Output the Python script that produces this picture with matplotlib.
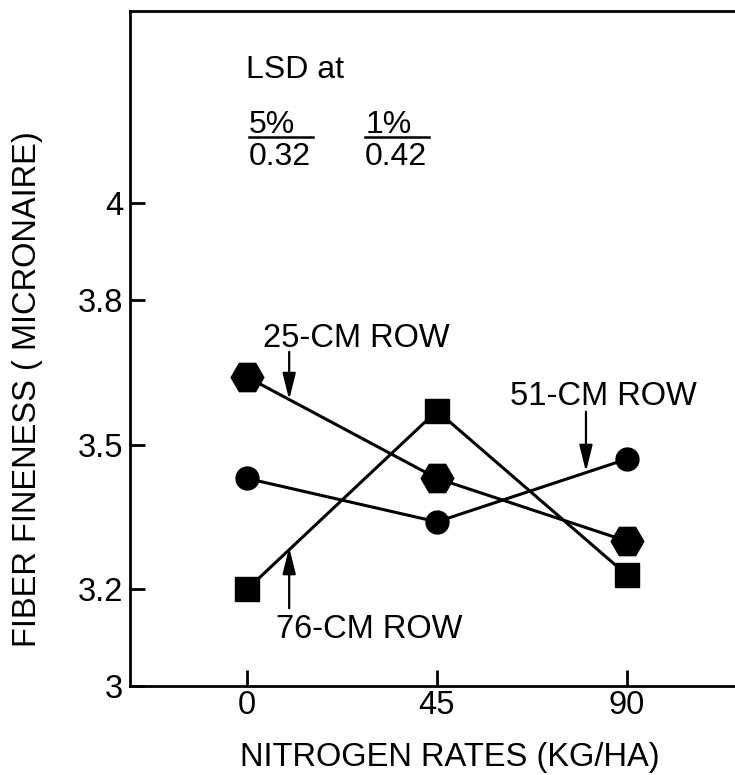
import matplotlib
matplotlib.use('Agg')
import matplotlib.pyplot as plt

# Dados
nitrogen = [0, 45, 90]
row_25cm = [3.64, 3.43, 3.30]   # hexágonos
row_51cm = [3.43, 3.34, 3.47]   # círculos
row_76cm = [3.20, 3.57, 3.23]   # quadrados
yticks = [3, 3.2, 3.5, 3.8, 4]
ytick_labels = ['3', '3.2', '3.5', '3.8', '4']
lsd_levels = ['5%', '1%']
lsd_values = ['0.32', '0.42']

plt.rcParams['font.family'] = ['Liberation Sans', 'DejaVu Sans']

fig = plt.figure(figsize=(7.35, 7.75), dpi=100)
ax = fig.add_axes([130/735, 89/775, 605/735, 675/775])

ax.plot(nitrogen, row_25cm, color='black', lw=2.2, marker='H', ms=23.5)
ax.plot(nitrogen, row_51cm, color='black', lw=2.2, marker='o', ms=16.5)
ax.plot(nitrogen, row_76cm, color='black', lw=2.2, marker='s', ms=17)

ax.set_xlim(-27.7, 115.6)
ax.set_ylim(3.0, 4.398)
ax.set_xticks(nitrogen)
ax.set_xticklabels([str(n) for n in nitrogen])
ax.set_yticks(yticks)
ax.set_yticklabels(ytick_labels)

ax.spines['right'].set_visible(False)
for s in ['left', 'top', 'bottom']:
    ax.spines[s].set_linewidth(2)
ax.tick_params(axis='both', direction='in', width=2, labelsize=23.5)
ax.tick_params(axis='y', length=11, pad=5)
ax.tick_params(axis='x', length=11.5, pad=3)

# rótulos das curvas com setas
arrow = dict(arrowstyle='-|>,head_length=0.8,head_width=0.2', lw=1.6,
             color='black', shrinkA=0, shrinkB=0, mutation_scale=20)
ax.text(25.9, 3.702, '25-CM ROW', ha='center', va='baseline', fontsize=23.5)
ax.annotate('', xy=(10, 3.593), xytext=(10, 3.692), arrowprops=arrow)
ax.text(84.5, 3.582, '51-CM ROW', ha='center', va='baseline', fontsize=23.5)
ax.annotate('', xy=(80.3, 3.444), xytext=(80.3, 3.568), arrowprops=arrow)
ax.text(29.0, 3.10, '76-CM ROW', ha='center', va='baseline', fontsize=23.5)
ax.annotate('', xy=(10, 3.287), xytext=(10, 3.161), arrowprops=arrow)

# bloco LSD
ax.text(-0.2, 4.259, 'LSD at', ha='left', va='baseline', fontsize=23)
for x0, lev, val in zip([0.4, 28.0], lsd_levels, lsd_values):
    ax.text(x0, 4.145, lev, ha='left', va='baseline', fontsize=23)
    ax.plot([x0, x0 + 15.2], [4.137, 4.137], color='black', lw=1.8)
    ax.text(x0, 4.079, val, ha='left', va='baseline', fontsize=23)

fig.text(450/735, 9/775, 'NITROGEN RATES (KG/HA)', ha='center', va='baseline',
         fontsize=23.5)
fig.text(28/735, 0.498, 'FIBER FINENESS ( MICRONAIRE)', ha='center', va='center',
         rotation=90, fontsize=23.5)

plt.savefig('out.png', dpi=100)
